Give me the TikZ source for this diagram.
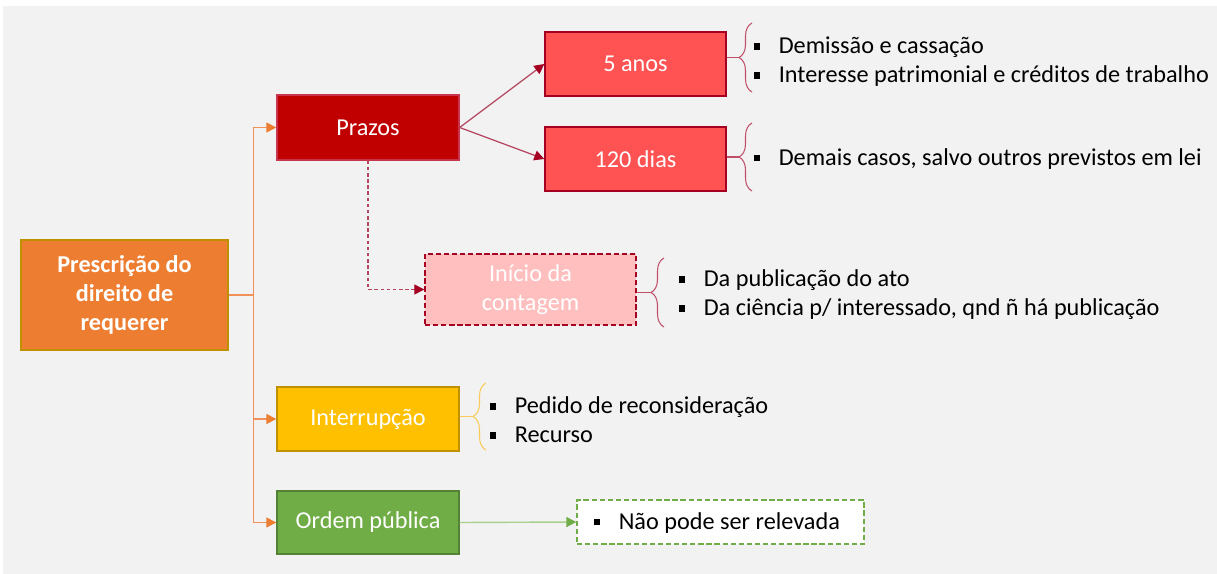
\documentclass[tikz,border=0pt]{standalone}
\usepackage{fontspec}
\setmainfont{Carlito}
\usetikzlibrary{positioning, arrows.meta, decorations.pathreplacing}
\tikzstyle{canvas} = [x = 0.02cm, y = -0.02cm]
\definecolor{canvasGray}{HTML}{F2F2F2}
\definecolor{rootOrange}{HTML}{ED7D31}
\definecolor{rootBorder}{HTML}{BF9000}
\definecolor{treeOrange}{HTML}{F0915A}
\definecolor{prazoRed}{HTML}{C00000}
\definecolor{prazoBorder}{HTML}{C8354F}
\definecolor{lightRed}{HTML}{FF5252}
\definecolor{darkRed}{HTML}{A50021}
\definecolor{lineRed}{HTML}{B5455F}
\definecolor{braceRed}{HTML}{C0506A}
\definecolor{paleRed}{HTML}{FFBFBF}
\definecolor{interrYellow}{HTML}{FFC000}
\definecolor{interrBorder}{HTML}{BF9000}
\definecolor{braceYellow}{HTML}{F8CB5A}
\definecolor{ordemGreen}{HTML}{70AD47}
\definecolor{ordemBorder}{HTML}{548235}
\definecolor{lineGreen}{HTML}{A9D18E}
\tikzstyle{boxText} = [font=\fontsize{13.8}{16.5}\selectfont, text=white, align=center, inner sep=0pt]
\tikzstyle{boxStyle} = [boxText, draw, line width=0.8pt]
\tikzstyle{listText} = [font=\fontsize{13.8}{16.5}\selectfont, text=black, align=left, inner sep=0pt, anchor=west]
\tikzstyle{braceStyle} = [decorate, decoration={brace, amplitude=0.26cm}, line width=0.6pt]
\tikzstyle{treeArrow} = [color=treeOrange, line width=0.8pt, -{Triangle[length=0.2cm, width=0.2cm, color=rootOrange]}]
\tikzstyle{prazoArrow} = [color=lineRed, line width=0.7pt, -{Triangle[length=0.2cm, width=0.2cm, color=darkRed]}]
\tikzstyle{greenArrow} = [color=lineGreen, line width=0.8pt, -{Triangle[length=0.2cm, width=0.2cm, color=ordemGreen]}]
\newcommand{\bulletSquare}{\rule[0.17em]{0.27em}{0.27em}\hspace{0.76em}}
\newcommand{\braceTo}[5]{
  \draw [braceStyle, #5] (#2, #4) -- (#2, #3);
  \pgfmathsetmacro{\tipY}{(#3 + #4) / 2}
  \coordinate (#1) at (#2 - 13, \tipY);
}

\begin{document}
\begin{tikzpicture}[canvas]
  \useasboundingbox (0,0) rectangle (1217,574);
  \fill [white] (0,0) rectangle (1217,574);
  \fill [canvasGray] (3,6) rectangle (1217,574);

  % boxes
  \node [boxStyle, fill=rootOrange, draw=rootBorder, minimum width=4.14cm, minimum height=2.2cm, font=\fontsize{13.8}{16.5}\selectfont\bfseries]
    (root) at (124.5,295) {Prescrição do\\direito de\\requerer};
  \node [boxStyle, fill=prazoRed, draw=prazoBorder, minimum width=3.64cm, minimum height=1.3cm] (prazos) at (368,127.5) {Prazos};
  \node [boxStyle, fill=lightRed, draw=darkRed, minimum width=3.62cm, minimum height=1.28cm] (cincoAnos) at (635.5,64) {5 anos};
  \node [boxStyle, fill=lightRed, draw=darkRed, minimum width=3.62cm, minimum height=1.28cm] (centoVinte) at (635.5,159) {120 dias};
  \node [boxStyle, fill=paleRed, draw=darkRed, dash pattern=on 3pt off 1.6pt, minimum width=4.22cm, minimum height=1.42cm] (inicio) at (530.5,289.5) {Início da\\contagem};
  \node [boxStyle, fill=interrYellow, draw=interrBorder, minimum width=3.64cm, minimum height=1.28cm] (interr) at (368,419) {Interrupção};
  \node [boxStyle, fill=ordemGreen, draw=ordemBorder, minimum width=3.64cm, minimum height=1.26cm] (ordem) at (368,522.5) {Ordem pública};
  \node [draw=ordemGreen, fill=white, line width=0.8pt, dash pattern=on 3pt off 1.6pt, minimum width=5.74cm, minimum height=0.88cm] (naoPodeBox) at (720.5,522) {};

  % tree
  \draw [color=treeOrange, line width=0.8pt] (root.east) -- ++(25,0) coordinate (trunk);
  \draw [treeArrow] (trunk) |- (prazos.west);
  \draw [treeArrow] (trunk) |- (interr.west);
  \draw [treeArrow] (trunk) |- (ordem.west);

  \draw [prazoArrow] (prazos.east) -- (cincoAnos.west);
  \draw [prazoArrow] (prazos.east) -- (centoVinte.west);
  \draw [prazoArrow, dash pattern=on 2pt off 1.5pt] (prazos.south) |- (inicio.west);
  \draw [greenArrow] (ordem.east) -- (naoPodeBox.west);

  % braces
  \braceTo{cincoTip}{752}{23}{92}{braceRed}
  \draw [braceRed, line width=0.6pt] (cincoTip -| cincoAnos.east) -- (cincoTip);
  \braceTo{centoTip}{752}{123}{191}{braceRed}
  \draw [braceRed, line width=0.6pt] (centoTip -| centoVinte.east) -- (centoTip);
  \braceTo{inicioTip}{664}{258}{327}{braceRed}
  \draw [braceRed, line width=0.6pt] (inicioTip -| inicio.east) -- (inicioTip);
  \braceTo{interrTip}{486}{383}{450}{braceYellow}
  \draw [braceYellow, line width=0.6pt] (interrTip -| interr.east) -- (interrTip);

  % lists
  \node [listText] (cincoList) at (753.5,62) {\bulletSquare Demissão e cassação\\\bulletSquare Interesse patrimonial e créditos de trabalho};
  \node [listText] (centoList) at (753.5,159) {\bulletSquare Demais casos, salvo outros previstos em lei};
  \node [listText] (inicioList) at (678.5,295) {\bulletSquare Da publicação do ato\\\bulletSquare Da ciência p/ interessado, qnd ñ há publicação};
  \node [listText] (interrList) at (489.5,420) {\bulletSquare Pedido de reconsideração\\\bulletSquare Recurso};
  \node [listText] (naoPodeList) at (593.5,523) {\bulletSquare Não pode ser relevada};
\end{tikzpicture}
\end{document}
